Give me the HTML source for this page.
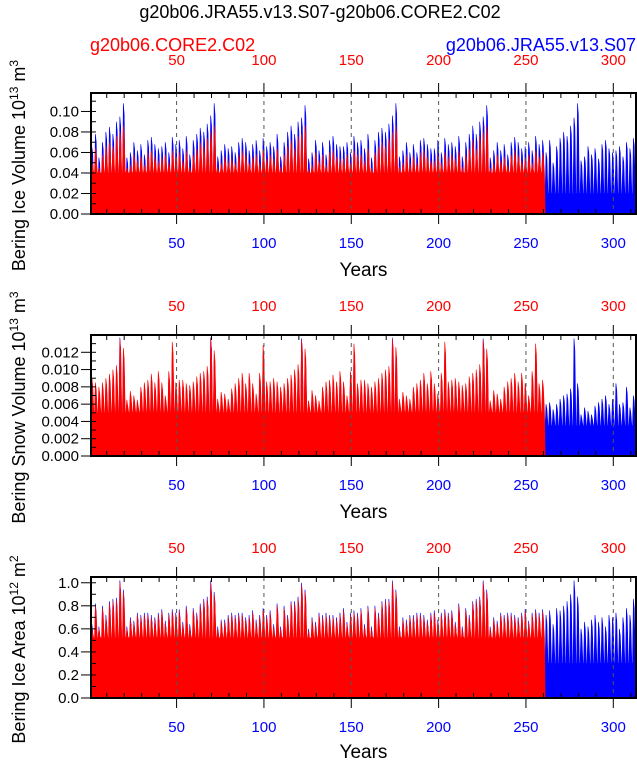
<!DOCTYPE html>
<html><head><meta charset="utf-8"><style>
html,body{margin:0;padding:0;background:#fff}
svg{display:block;font-family:"Liberation Sans",Arial,sans-serif}
</style></head><body>
<svg id="chart" width="637" height="760" viewBox="0 0 637 760">
<text x="320" y="18" text-anchor="middle" font-size="18">g20b06.JRA55.v13.S07-g20b06.CORE2.C02</text>
<text x="90" y="51" font-size="18" fill="#f00">g20b06.CORE2.C02</text>
<text x="636" y="51" font-size="18" fill="#00f" text-anchor="end">g20b06.JRA55.v13.S07</text>
</svg>
<script>
// ---- data: 2-year-interval peak values (years 1..312 blue, 1..262 red) ----
const xTicks = [50,100,150,200,250,300];
// ice volume x1e-3 (10^13 m^3)
const iceBlue = [65,78,55,70,80,85,78,90,95,108,55,60,70,62,68,58,72,75,68,64,66,70,60,75,68,72,
 64,76,58,72,78,84,80,88,96,108,56,62,68,64,66,60,70,74,70,62,68,72,62,74,66,70,
 66,78,56,70,80,86,78,90,94,106,54,60,72,62,70,58,72,76,68,66,66,70,60,76,70,72,
 64,78,55,72,80,84,80,88,96,108,56,62,70,60,68,60,72,74,68,64,64,72,60,74,68,70,
 66,76,56,70,78,86,78,90,95,106,55,62,70,62,68,58,70,75,70,64,66,70,62,76,68,72,
 60,72,50,66,74,80,76,86,94,108,52,56,66,58,64,54,68,72,64,60,62,66,56,70,64,74];
const iceRed = [52,64,45,58,66,70,66,76,80,86,45,48,58,52,56,48,60,62,56,52,55,58,50,62,56,60,
 52,62,46,58,64,70,66,74,80,86,46,50,56,52,54,50,58,62,58,50,56,58,50,62,54,58,
 54,64,46,58,66,72,64,76,78,86,44,48,60,52,58,48,60,62,56,54,54,58,50,62,58,58,
 52,64,45,60,66,70,66,74,80,86,46,50,58,50,56,50,60,62,56,52,52,58,50,60,56,58,
 54,62,46,58,64,72,64,76,80,86,45,50,58,52,56,48,58,62,58,52,54,58,50,62,56,60];
// snow volume x1e-4
const snowRed = [90,85,80,85,90,95,100,105,135,125,65,75,70,65,80,85,88,95,85,98,85,70,98,132,85,88,
 88,84,82,86,92,96,98,104,136,122,66,74,72,66,78,84,90,96,84,96,84,72,96,128,86,86,
 90,86,80,84,90,94,100,106,134,124,64,76,70,64,80,86,88,94,86,98,86,70,98,130,84,88,
 88,84,80,86,90,96,100,104,136,126,66,74,70,66,80,84,88,96,84,98,84,72,96,132,86,88,
 90,86,82,84,92,96,100,106,134,124,64,76,72,66,80,86,90,96,86,96,84,70,98,130,84,88];
const snowBlue = [84,78,74,78,84,88,92,96,137,116,60,70,64,60,74,78,80,88,78,90,78,64,90,120,78,80,
 80,78,76,78,84,88,90,96,137,112,60,68,66,60,72,78,82,88,78,88,78,66,88,118,80,80,
 82,80,74,78,84,86,92,98,136,114,58,70,64,58,74,78,80,86,78,90,78,64,90,118,78,80,
 80,78,74,78,84,88,92,96,137,116,60,68,64,60,74,78,80,88,78,90,78,66,88,120,78,80,
 82,80,76,78,84,88,92,98,136,114,58,70,66,60,74,78,82,88,78,88,78,64,90,118,76,80,
 60,62,54,60,66,70,72,78,136,84,48,56,52,48,58,62,66,70,60,66,84,60,62,80,56,70];
// ice area x1e-2 (10^12 m^2)
const areaRed = [62,80,60,78,70,82,84,85,100,92,60,68,65,72,70,72,72,70,68,72,75,65,72,75,72,75,
 64,78,62,76,72,80,84,86,100,90,60,66,66,70,72,70,72,72,68,70,74,66,70,76,70,74,
 62,80,60,78,70,82,82,86,98,92,58,68,64,72,70,72,70,70,68,72,76,64,72,74,72,76,
 62,78,60,78,72,82,84,84,100,92,60,68,66,70,70,72,72,70,66,72,74,66,72,75,72,74,
 64,80,60,76,70,82,84,86,100,92,60,68,65,72,70,72,72,70,68,72,75,65,72,75,72,75];
const areaBlue = [64,82,62,80,72,84,86,87,102,94,62,70,67,74,72,74,74,72,70,74,77,67,74,77,74,77,
 66,80,64,78,74,82,86,88,102,92,62,68,68,72,74,72,74,74,70,72,76,68,72,78,72,76,
 64,82,62,80,72,84,84,88,100,94,60,70,66,74,72,74,72,72,70,74,78,66,74,76,74,78,
 64,80,62,80,74,84,86,86,102,94,62,70,68,72,72,74,74,72,68,74,76,68,74,77,74,76,
 66,82,62,78,72,84,86,88,102,94,62,70,67,74,72,74,74,72,70,74,77,67,74,77,74,77,
 72,76,64,78,76,80,84,90,102,88,60,66,62,68,72,66,70,62,72,70,74,60,70,78,72,86];

const panels = [
 {name:'ice-volume',top:93,bot:214,ymax:0.118,scale:0.001,ticks:[0,0.02,0.04,0.06,0.08,0.10],dec:2,minor:0.01,
  blue:iceBlue,red:iceRed,blueFloor:0.02,redFloor:0.04,label:['Bering Ice Volume 10','13',' m','3'],
  topLab:65,botLab:248,years:276},
 {name:'snow-volume',top:335,bot:456,ymax:0.014,scale:0.0001,ticks:[0,0.002,0.004,0.006,0.008,0.010,0.012],dec:3,minor:0.001,
  blue:snowBlue,red:snowRed,blueFloor:0.0035,redFloor:0.005,label:['Bering Snow Volume 10','13',' m','3'],
  topLab:311,botLab:490,years:518},
 {name:'ice-area',top:577,bot:698,ymax:1.05,scale:0.01,ticks:[0,0.2,0.4,0.6,0.8,1.0],dec:1,minor:0.1,
  blue:areaBlue,red:areaRed,blueFloor:0.3,redFloor:0.52,label:['Bering Ice Area 10','12',' m','2'],
  topLab:553,botLab:732,years:758}
];
const svg = document.getElementById('chart');
const NS='http://www.w3.org/2000/svg';
const X0=91,X1=636,YR0=1,YR1=313;
function xs(yr){return X0+(yr-YR0)*(X1-X0)/(YR1-YR0);}
function mk(tag,attrs,parent){const e=document.createElementNS(NS,tag);for(const k in attrs)e.setAttribute(k,attrs[k]);(parent||svg).appendChild(e);return e;}

panels.forEach(p=>{
  const g=mk('g',{});
  
  
  const ys=v=>p.bot-(v/p.ymax)*(p.bot-p.top);
  function area(vals,floor,color,nm){
    let d='M'+xs(1)+','+p.bot;
    vals.forEach((v,i)=>{
      const a=1+i*2;
      d+=' L'+xs(a)+','+ys(floor)+' L'+xs(a+0.5)+','+ys(v*p.scale)+' L'+xs(a+1)+','+ys(v*p.scale*0.9)+' L'+xs(a+1.6)+','+ys(floor);
    });
    d+=' L'+xs(1+vals.length*2)+','+p.bot+' Z';
    const el=mk('path',{d:d,fill:color,stroke:color,'stroke-width':0.6},g);
    
    
  }
  area(p.blue,p.blueFloor,'#00f',p.name+'-blue-series');
  area(p.red,p.redFloor,'#f00',p.name+'-red-series');
  xTicks.forEach(t=>{
    const l=mk('line',{x1:xs(t),x2:xs(t),y1:p.top,y2:p.bot,stroke:'#555','stroke-dasharray':'4,4','stroke-width':1},g);
    
    
  });
  const fr=mk('rect',{x:X0,y:p.top,width:X1-X0,height:p.bot-p.top,fill:'none',stroke:'#000','stroke-width':2},g);
  
  
  for(let t=10;t<=310;t+=10){
    const major=t%50===0;
    mk('line',{x1:xs(t),x2:xs(t),y1:p.bot,y2:major?p.bot+10:p.bot-5,stroke:'#000','stroke-width':1},g);
    mk('line',{x1:xs(t),x2:xs(t),y1:p.top,y2:major?p.top-10:p.top+5,stroke:'#000','stroke-width':1},g);
  }
  xTicks.forEach(t=>{
    const b=mk('text',{x:xs(t),y:p.botLab,'text-anchor':'middle','font-size':15,fill:'#00f'},g);
    b.textContent=t;
    
    
    const r=mk('text',{x:xs(t),y:p.topLab,'text-anchor':'middle','font-size':15,fill:'#f00'},g);
    r.textContent=t;
    
    
  });
  for(let v=0;v<=p.ymax+1e-9;v+=p.minor){
    mk('line',{x1:X0,x2:X0+5,y1:ys(v),y2:ys(v),stroke:'#000','stroke-width':1},g);
  }
  p.ticks.forEach(v=>{
    mk('line',{x1:X0-10,x2:X0,y1:ys(v),y2:ys(v),stroke:'#000','stroke-width':1},g);
    const t=mk('text',{x:X0-12,y:ys(v)+5,'text-anchor':'end','font-size':15},g);
    t.textContent=v.toFixed(p.dec);
    
    
  });
  const yt=mk('text',{x:(X0+X1)/2,y:p.years,'text-anchor':'middle','font-size':19},g);
  yt.textContent='Years';
  
  
  const cy=(p.top+p.bot)/2+12;
  const lab=mk('text',{x:0,y:0,'text-anchor':'middle','font-size':18,transform:'translate(25,'+cy+') rotate(-90)'},g);
  
  
  const s1=mk('tspan',{},lab);s1.textContent=p.label[0];
  const s2=mk('tspan',{dy:-7,'font-size':12},lab);s2.textContent=p.label[1];
  const s3=mk('tspan',{dy:7},lab);s3.textContent=p.label[2];
  const s4=mk('tspan',{dy:-7,'font-size':12},lab);s4.textContent=p.label[3];
});
</script>
</body></html>
